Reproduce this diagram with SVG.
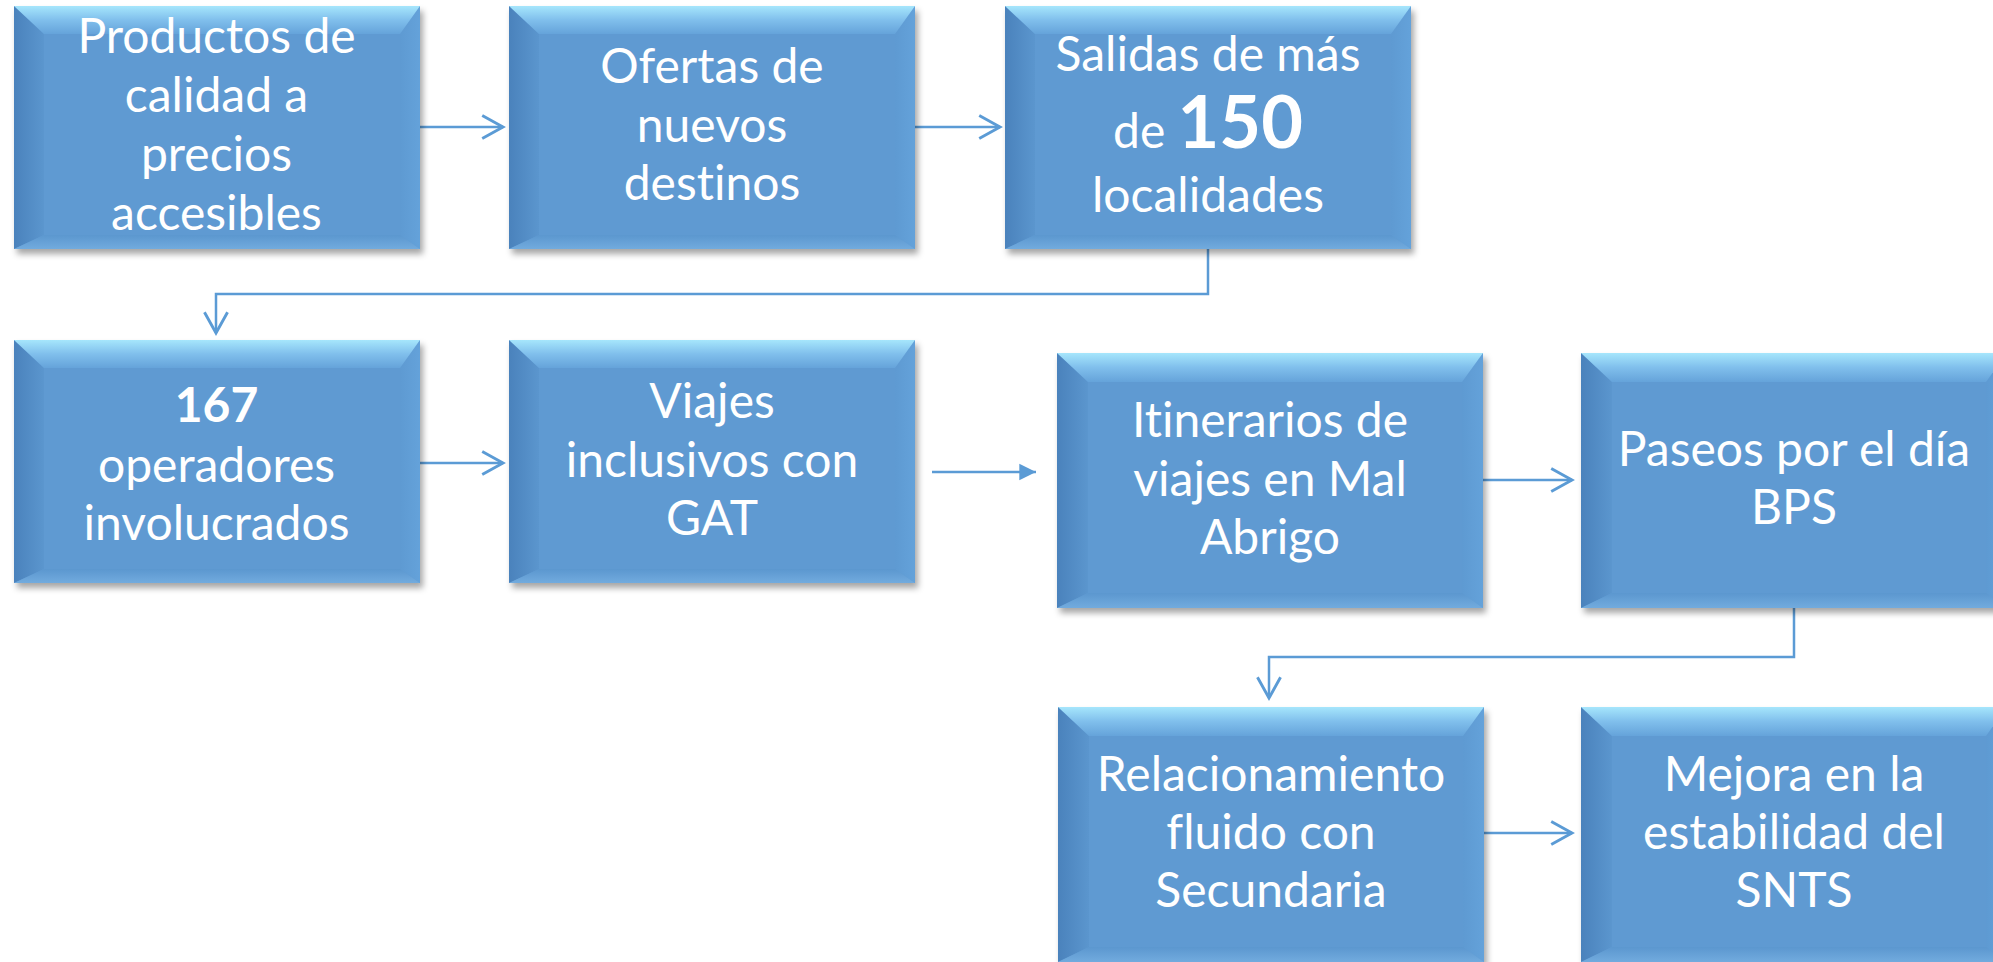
<svg xmlns="http://www.w3.org/2000/svg" xmlns:xlink="http://www.w3.org/1999/xlink" width="1993" height="962" viewBox="0 0 1993 962">
<style>
.t{font-family:Lato,"Open Sans","Liberation Sans",sans-serif;font-size:48px;fill:#ffffff;text-anchor:middle;font-variant-ligatures:none;font-feature-settings:"liga" 0,"clig" 0}
.b{font-weight:bold}
.c{fill:none;stroke:#5B9BD5;stroke-width:2.5}
</style>
<defs>
<filter id="sh" x="-5%" y="-5%" width="112%" height="115%">
<feDropShadow dx="3" dy="5" stdDeviation="3" flood-color="#000" flood-opacity="0.35"/>
</filter>
<linearGradient id="gTop" x1="0" y1="0" x2="0" y2="1">
<stop offset="0" stop-color="#A6E6FC"/><stop offset="0.5" stop-color="#80BFEC"/><stop offset="1" stop-color="#65A3DA"/>
</linearGradient>
<linearGradient id="gLeft" x1="0" y1="0" x2="1" y2="0">
<stop offset="0" stop-color="#4A82BC"/><stop offset="1" stop-color="#5B96CE"/>
</linearGradient>
<linearGradient id="gRight" x1="0" y1="0" x2="1" y2="0">
<stop offset="0" stop-color="#5E9AD2"/><stop offset="1" stop-color="#64A2DA"/>
</linearGradient>
<linearGradient id="gBot" x1="0" y1="0" x2="0" y2="1">
<stop offset="0" stop-color="#5B97CF"/><stop offset="1" stop-color="#72ABDE"/>
</linearGradient>
<marker id="open" markerUnits="userSpaceOnUse" markerWidth="30" markerHeight="30" viewBox="-22 -13 26 26" refX="0" refY="0" orient="auto">
<path d="M-18,-10 L0,0 L-18,10" fill="none" stroke="#5B9BD5" stroke-width="2.5"/>
</marker>
<marker id="solid" markerUnits="userSpaceOnUse" markerWidth="20" markerHeight="20" viewBox="-16 -9 18 18" refX="0" refY="0" orient="auto">
<path d="M-15,-7.5 L0,0 L-15,7.5 Z" fill="#5B9BD5"/>
</marker>
<g id="boxA">
<rect x="0" y="0" width="406" height="243" fill="#5E9AD2" filter="url(#sh)"/>
<polygon points="0,0 30,28 30,229 0,243" fill="url(#gLeft)"/>
<polygon points="406,0 406,243 386,229 386,28" fill="url(#gRight)"/>
<polygon points="0,243 406,243 386,229 30,229" fill="url(#gBot)"/>
<polygon points="0,0 406,0 386,28 30,28" fill="url(#gTop)"/>
</g>
<g id="boxB">
<rect x="0" y="0" width="426" height="255" fill="#5E9AD2" filter="url(#sh)"/>
<polygon points="0,0 31,29 31,240 0,255" fill="url(#gLeft)"/>
<polygon points="426,0 426,255 405,240 405,29" fill="url(#gRight)"/>
<polygon points="0,255 426,255 405,240 31,240" fill="url(#gBot)"/>
<polygon points="0,0 426,0 405,29 31,29" fill="url(#gTop)"/>
</g>
</defs>
<rect width="1993" height="962" fill="#ffffff"/>
<g id="connectors">
<path class="c" d="M419,127 H503" marker-end="url(#open)"/>
<path class="c" d="M915,127 H1000" marker-end="url(#open)"/>
<path class="c" d="M1208,248 V294 H216 V333" marker-end="url(#open)"/>
<path class="c" d="M419,463 H503" marker-end="url(#open)"/>
<path class="c" d="M932,472 H1036" marker-end="url(#solid)"/>
<path class="c" d="M1483,480 H1572" marker-end="url(#open)"/>
<path class="c" d="M1794,608 V657 H1269 V698" marker-end="url(#open)"/>
<path class="c" d="M1484,833 H1572" marker-end="url(#open)"/>
</g>
<g id="n1"><use href="#boxA" x="14" y="6"/>
<text class="t" x="216.5" y="53">Productos de</text>
<text class="t" x="216.5" y="112">calidad a</text>
<text class="t" x="216.5" y="171">precios</text>
<text class="t" x="216.5" y="230">accesibles</text>
</g>
<g id="n2"><use href="#boxA" x="509" y="6"/>
<text class="t" x="712" y="83">Ofertas de</text>
<text class="t" x="712" y="142">nuevos</text>
<text class="t" x="712" y="200">destinos</text>
</g>
<g id="n3"><use href="#boxA" x="1005" y="6"/>
<text class="t" x="1208" y="71">Salidas de más</text>
<text class="t" x="1208" y="148">de <tspan class="b" font-size="72">150</tspan></text>
<text class="t" x="1208" y="212">localidades</text>
</g>
<g id="n4"><use href="#boxA" x="14" y="340"/>
<text class="t b" x="216.5" y="422" font-size="62">167</text>
<text class="t" x="216.5" y="482">operadores</text>
<text class="t" x="216.5" y="540">involucrados</text>
</g>
<g id="n5"><use href="#boxA" x="509" y="340"/>
<text class="t" x="712" y="418">Viajes</text>
<text class="t" x="712" y="477">inclusivos con</text>
<text class="t" x="712" y="535">GAT</text>
</g>
<g id="n6"><use href="#boxB" x="1057" y="353"/>
<text class="t" x="1270" y="437">Itinerarios de</text>
<text class="t" x="1270" y="496">viajes en Mal</text>
<text class="t" x="1270" y="554">Abrigo</text>
</g>
<g id="n7"><use href="#boxB" x="1581" y="353"/>
<text class="t" x="1794" y="466">Paseos por el día</text>
<text class="t" x="1794" y="524">BPS</text>
</g>
<g id="n8"><use href="#boxB" x="1058" y="707"/>
<text class="t" x="1271" y="791">Relacionamiento</text>
<text class="t" x="1271" y="849">fluido con</text>
<text class="t" x="1271" y="907">Secundaria</text>
</g>
<g id="n9"><use href="#boxB" x="1581" y="707"/>
<text class="t" x="1794" y="791">Mejora en la</text>
<text class="t" x="1794" y="849">estabilidad del</text>
<text class="t" x="1794" y="907">SNTS</text>
</g>
</svg>
